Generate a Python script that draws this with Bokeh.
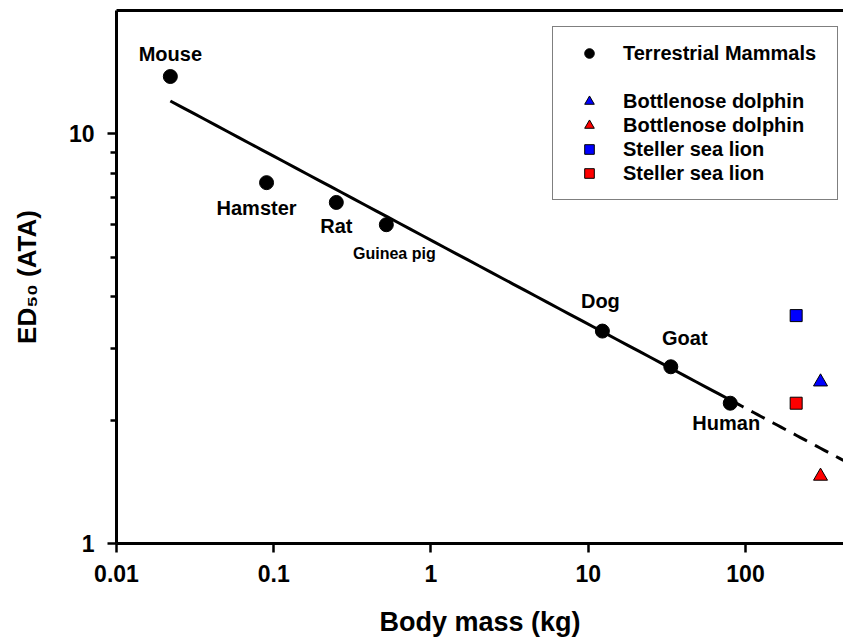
import numpy as np
from bokeh.plotting import figure
from bokeh.models import (ColumnDataSource, LogAxis, FixedTicker,
                          CustomJSTickFormatter, Legend, LegendItem, Range1d)
from bokeh.core.properties import value
from bokeh.embed import file_html
from bokeh.resources import INLINE

# ---------------- data ----------------
names = ["Mouse", "Hamster", "Rat", "Guinea pig", "Dog", "Goat", "Human"]
mass_kg = [0.022, 0.090, 0.25, 0.52, 12.3, 33.5, 80.0]
ed50_ata = [13.8, 7.6, 6.8, 6.0, 3.3, 2.7, 2.2]

dolphin_mass = [300.0, 300.0]
dolphin_ed50 = [2.48, 1.46]
sealion_mass = [210.0, 210.0]
sealion_ed50 = [3.6, 2.2]

fit_a = 5.5      # ED50 = a * M^b (terrestrial allometric fit)
fit_b = -0.205

x_ticks = [0.01, 0.1, 1, 10, 100]
y_ticks = [1, 10]
y_minor_ticks = [2, 3, 4, 5, 6, 7, 8, 9]
x_range = (0.01, 420.0)
y_range = (1.0, 20.0)

legend_labels = ["Terrestrial Mammals", " ", "Bottlenose dolphin", "Bottlenose dolphin",
                 "Steller sea lion", "Steller sea lion"]

# ---------------- style ----------------
FONT = "Liberation Sans"
label_dx = [0, -10, 0, 8, -2, 14, -4]
label_dy = [-23, 25, 24, 29, -30, -29, 20]
label_size = ["20px", "20px", "20px", "16px", "20px", "20px", "20px"]

p = figure(width=843, height=639, x_axis_type="log", y_axis_type="log",
           x_range=Range1d(*x_range), y_range=Range1d(*y_range),
           output_backend="svg", toolbar_location=None,
           min_border_left=116, min_border_right=0, min_border_top=10,
           min_border_bottom=96)
p.grid.visible = False
p.outline_line_color = None
p.background_fill_color = "white"
p.border_fill_color = "white"

fmt = CustomJSTickFormatter(code="return tick.toString();")

xa = p.xaxis[0]
xa.ticker = FixedTicker(ticks=x_ticks, minor_ticks=[])
xa.formatter = fmt
xa.axis_label = "Body mass (kg)"
ya = p.yaxis[0]
ya.ticker = FixedTicker(ticks=y_ticks, minor_ticks=y_minor_ticks)
ya.formatter = fmt
ya.axis_label = "ED\u2085\u2080 (ATA)"

for ax in (xa, ya):
    ax.axis_line_width = 3
    ax.axis_line_color = "black"
    ax.major_tick_line_width = 2.5
    ax.minor_tick_line_width = 2.5
    ax.major_tick_in = 0
    ax.major_tick_out = 9
    ax.minor_tick_in = 0
    ax.minor_tick_out = 6
    ax.major_label_text_font = FONT
    ax.major_label_text_font_style = "bold"
    ax.major_label_text_font_size = "23px"
    ax.major_label_text_color = "black"
    ax.axis_label_text_font = FONT
    ax.axis_label_text_font_style = "bold"
    ax.axis_label_text_font_size = "27px"
    ax.axis_label_text_color = "black"
xa.minor_tick_line_color = None
xa.major_label_standoff = 12
xa.axis_label_standoff = 22
ya.major_label_standoff = 13
ya.axis_label_standoff = 24
ya.axis_label_text_font_size = "26px"

top = LogAxis(ticker=FixedTicker(ticks=[]), axis_line_width=3, axis_line_color="black",
              major_tick_out=0, major_tick_in=0, minor_tick_out=0, minor_tick_in=0,
              major_label_text_font_size="0px", major_label_standoff=0,
              formatter=CustomJSTickFormatter(code="return '';"))
p.add_layout(top, "above")

# ---------------- regression line ----------------
xs_solid = np.geomspace(min(mass_kg), max(mass_kg), 50)
xs_dash = np.geomspace(max(mass_kg), x_range[1], 30)
p.line(xs_solid, fit_a * xs_solid ** fit_b, line_color="black", line_width=3)
p.line(xs_dash, fit_a * xs_dash ** fit_b, line_color="black", line_width=3, line_dash="15 9")

# ---------------- points ----------------
src = ColumnDataSource(dict(x=mass_kg, y=ed50_ata, name=names, dx=label_dx, dy=label_dy,
                            fs=label_size))
r_terr = p.scatter("x", "y", source=src, size=14, marker="circle",
                   fill_color="black", line_color="black")
r_d_blue = p.scatter([dolphin_mass[0]], [dolphin_ed50[0]], marker="triangle", size=14,
                     fill_color="#0000ff", line_color="black", line_width=1)
r_d_red = p.scatter([dolphin_mass[1]], [dolphin_ed50[1]], marker="triangle", size=14,
                    fill_color="#ff0000", line_color="black", line_width=1)
r_s_blue = p.scatter([sealion_mass[0]], [sealion_ed50[0]], marker="square", size=12,
                     fill_color="#0000ff", line_color="black", line_width=1)
r_s_red = p.scatter([sealion_mass[1]], [sealion_ed50[1]], marker="square", size=12,
                    fill_color="#ff0000", line_color="black", line_width=1)
r_blank = p.scatter(x=[], y=[], marker="circle", size=1, fill_alpha=0, line_alpha=0)

p.text("x", "y", text="name", source=src, x_offset="dx", y_offset="dy",
       text_font=value(FONT), text_font_style="bold", text_font_size="fs",
       text_align="center", text_baseline="middle", text_color="black")

# ---------------- legend ----------------
rends = [r_terr, r_blank, r_d_blue, r_d_red, r_s_blue, r_s_red]
legend = Legend(items=[LegendItem(label=l, renderers=[r]) for l, r in zip(legend_labels, rends)],
                location=(436, 343))
legend.label_text_font = FONT
legend.label_text_font_style = "bold"
legend.label_text_font_size = "20px"
legend.label_text_color = "black"
legend.glyph_width = 44
legend.glyph_height = 24
legend.label_height = 20
legend.label_width = 200
legend.spacing = 0
legend.padding = 14
legend.margin = 0
legend.label_standoff = 12
legend.border_line_color = "black"
legend.border_line_width = 1.5
legend.background_fill_color = "white"
legend.background_fill_alpha = 1
p.add_layout(legend, "center")

open("out.html", "w").write(file_html(p, INLINE))
